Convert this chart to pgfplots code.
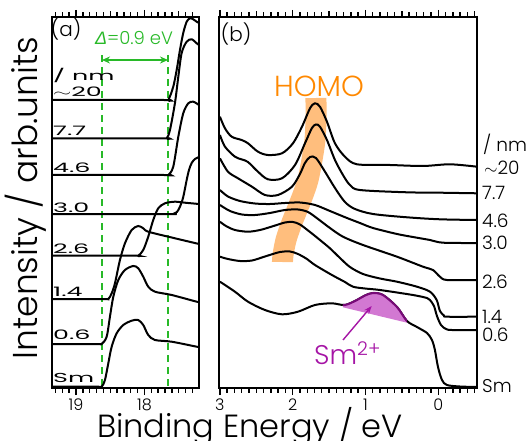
\documentclass[border=0pt]{standalone}
\usepackage{pgfplots}
\pgfplotsset{compat=1.18}
\usepackage{fontspec}
\setmainfont{Poppins Light}
\newfontfamily\reg{Poppins}
\newfontfamily\lsans{Liberation Sans}
\usetikzlibrary{arrows.meta}
\definecolor{grn}{RGB}{40,185,40}
\definecolor{orgtxt}{RGB}{255,136,0}
\definecolor{orgband}{RGB}{255,190,125}
\definecolor{pfill}{RGB}{210,120,210}
\definecolor{pline}{RGB}{120,10,120}
\definecolor{ptxt}{RGB}{165,20,165}
\pgfplotsset{
 myax/.style={
  scale only axis, anchor=south west,
  x dir=reverse, y dir=reverse,
  ymin=17, ymax=388, ytick=\empty,
  axis line style={line width=1.3pt},
  xtick style={draw=black, line width=1.4pt},
  minor tick style={draw=black, line width=1.4pt},
  major tick length=7pt, minor tick length=4.5pt,
  tick align=outside,
  xticklabel style={font=\fontsize{16}{16}\selectfont},
  /pgf/number format/assume math mode=true,
 },
 crv/.style={black, line width=2pt, smooth, tension=0.5},
}
\tikzset{tk/.style={draw=black, line width=1.4pt}}
% ticks drawn on the page: #1 = list of values, #2 = length, #3 = left px, #4 = value at left edge, #5 = pt per eV
\newcommand{\pticks}[5]{%
  \foreach \e in {#1}{%
    \pgfmathsetmacro\px{#3+(#4-\e)*#5}%
    \draw[tk] (\px pt,53pt) -- ++(0pt,-#2);
    \draw[tk] (\px pt,424pt) -- ++(0pt,#2);
  }}
\newcommand{\lab}[1]{\scalebox{1.95}[1]{\reg\fontsize{13}{13}\selectfont #1}}
\begin{document}
\begin{tikzpicture}
% ---------------- panel (a)
\begin{axis}[myax, at={(52pt,53pt)}, width=147pt, height=371pt,
  xmin=17.204, xmax=19.350, xtick={18,19},
  minor xtick={17.3,17.4,17.5,17.6,17.7,17.8,17.9,18.1,18.2,18.3,18.4,18.5,18.6,18.7,18.8,18.9,19.1,19.2,19.3}]
\draw[grn, line width=1.8pt, dash pattern=on 7pt off 5pt] (axis cs:18.62,55) -- (axis cs:18.62,388);
\draw[grn, line width=1.8pt, dash pattern=on 7pt off 5pt] (axis cs:17.657,55) -- (axis cs:17.657,388);
\addplot[crv] coordinates {(19.350,386.7)(18.70,386.7)(18.625,386.7)(18.577,380)(18.528,363.3)(18.479,346.7)(18.406,333.3)(18.309,325)(18.187,320.7)(18.091,320)(18.018,325)(17.945,335)(17.847,340)(17.603,341.7)(17.238,346.7)(17.204,347)};
\addplot[crv] coordinates {(19.350,344)(18.70,344)(18.625,344)(18.552,336.7)(18.504,316.7)(18.455,296.7)(18.382,280)(18.285,270)(18.163,266)(18.091,268.3)(18.018,276.7)(17.945,286.7)(17.847,291.7)(17.603,295)(17.238,301.7)(17.204,302)};
\addplot[crv] coordinates {(19.350,299)(18.60,299)(18.528,299)(18.479,293.3)(18.431,283.3)(18.358,260)(18.285,243.3)(18.187,230)(18.091,226)(18.018,228.3)(17.945,231.7)(17.603,237.5)(17.204,244)};
\addplot[crv] coordinates {(19.350,255.7)(18.16,255.7)(18.091,255.7)(18.018,250)(17.945,236.7)(17.872,220)(17.799,208.3)(17.701,203.3)(17.555,201.7)(17.409,202.7)(17.204,204)};
\addplot[crv] coordinates {(19.350,214)(17.65,214)(17.580,214)(17.526,212)(17.482,206.7)(17.434,197)(17.384,180)(17.350,170)(17.311,163)(17.263,159)(17.204,157)};
\addplot[crv] coordinates {(19.350,175)(17.72,175)(17.653,175)(17.580,166.7)(17.506,136.7)(17.434,113.3)(17.360,103.3)(17.288,101.7)(17.204,105)};
\addplot[crv] coordinates {(19.350,138.3)(17.74,138.3)(17.676,138.3)(17.628,130)(17.555,103)(17.506,76.7)(17.457,53)(17.384,41.7)(17.311,39.3)(17.238,43.3)(17.204,45)};
\addplot[crv] coordinates {(19.350,100)(17.72,100)(17.653,100)(17.580,86.7)(17.530,70)(17.482,50)(17.434,33)(17.384,21.7)(17.336,18.3)(17.288,19.3)(17.238,21.7)(17.204,23)};
\end{axis}
% ---------------- panel (b)
\begin{axis}[myax, at={(219pt,53pt)}, width=258pt, height=371pt,
  xmin=-0.532, xmax=3.012, xtick={0,1,2,3},
  minor xtick={-0.5,-0.4,-0.3,-0.2,-0.1,0.1,0.2,0.3,0.4,0.5,0.6,0.7,0.8,0.9,1.1,1.2,1.3,1.4,1.5,1.6,1.7,1.8,1.9,2.1,2.2,2.3,2.4,2.5,2.6,2.7,2.8,2.9}]
\addplot[orgband, line width=21pt, smooth, tension=0.5] coordinates {(1.680,98)(1.680,120)(1.694,140)(1.735,160)(1.790,180)(1.859,195)(1.941,210)(2.023,225)(2.092,240)(2.133,255)(2.140,262)};
% ~20
\addplot[crv] coordinates {(2.999,116.7)(2.930,128.3)(2.838,136.7)(2.701,140)(2.614,143.3)(2.477,151.7)(2.340,155)(2.147,153.3)(1.996,143.3)(1.872,126.7)(1.762,108.3)(1.694,103.3)(1.625,106.7)(1.529,121.7)(1.419,143.3)(1.282,156.7)(1.117,164.3)(0.663,165)(0.210,166)(-0.161,164.3)(-0.532,166.7)};
% 7.7
\addplot[crv] coordinates {(2.999,135)(2.930,146.7)(2.793,156.7)(2.696,159.5)(2.614,162)(2.477,171.7)(2.340,179.3)(2.147,178.3)(1.968,165)(1.831,143.3)(1.735,128)(1.680,124.5)(1.625,126.7)(1.529,140)(1.419,160)(1.309,175)(1.213,185)(1.076,190)(0.430,192.3)(-0.023,192.7)(-0.532,193.3)};
% 4.6
\addplot[crv] coordinates {(2.999,158.3)(2.889,171.7)(2.751,178.3)(2.559,186.7)(2.381,195)(2.202,195)(2.010,186.7)(1.900,174)(1.831,163)(1.762,157)(1.680,158)(1.556,171.7)(1.419,188)(1.282,202)(1.144,209)(0.897,214)(0.430,217.3)(-0.023,219.3)(-0.532,220)};
% 3.0
\addplot[crv] coordinates {(2.999,190)(2.889,196.5)(2.724,201)(2.518,203.5)(2.312,204)(2.106,203)(1.900,202.5)(1.694,205)(1.488,211)(1.254,218)(1.076,223)(0.897,228)(0.567,234)(0.348,237)(0.114,240)(-0.065,242.7)(-0.532,243)};
% 2.6
\addplot[crv] coordinates {(2.999,205)(2.861,211)(2.696,214.5)(2.518,215)(2.312,213)(2.106,210)(1.927,209.5)(1.790,212)(1.652,219)(1.488,228)(1.309,236.7)(1.034,245)(0.567,256.7)(0.210,266.7)(0.073,270)(-0.023,276.7)(-0.119,280)(-0.532,280)};
% 1.4
\addplot[crv] coordinates {(2.999,221.7)(2.916,226)(2.793,230)(2.614,231.7)(2.449,230)(2.284,226.5)(2.106,222.5)(1.996,222)(1.900,224.5)(1.762,232)(1.625,240)(1.488,248.3)(1.350,258)(1.213,267)(1.034,274)(0.801,278.5)(0.567,281.7)(0.293,286.7)(0.114,291.7)(0.022,300)(-0.023,311)(-0.078,315.5)(-0.119,316.7)(-0.532,316.7)};
% 0.6
\addplot[crv] coordinates {(2.999,256.7)(2.889,259)(2.724,261)(2.559,260.5)(2.381,256.5)(2.175,252)(2.037,251.5)(1.927,254)(1.804,259)(1.694,265)(1.461,275)(1.282,282)(1.172,286.7)(1.007,288.5)(0.801,290)(0.348,295)(0.155,298)(0.114,300)(0.059,306)(0.018,316)(-0.037,325)(-0.106,329)(-0.188,330)(-0.532,330)};
% Sm
\addplot[crv] coordinates {(2.999,281.7)(2.793,291.7)(2.614,301.7)(2.381,310)(2.147,314.3)(1.927,311.7)(1.694,305)(1.461,303.3)(1.282,305)(1.117,300)(1.007,295.5)(0.897,293)(0.760,295)(0.567,307)(0.430,321)(0.293,327)(0.155,333)(0.087,340)(0.046,350)(0.004,367)(-0.051,380)(-0.119,385)(-0.298,386.5)(-0.532,387)};
\begin{scope}
\clip (axis cs:1.309,307.3) -- (axis cs:0.430,322.7) -- (axis cs:0.430,250) -- (axis cs:1.309,250) -- cycle;
\addplot[fill=pfill, draw=none, smooth, tension=0.5] coordinates {(2.999,281.7)(2.793,291.7)(2.614,301.7)(2.381,310)(2.147,314.3)(1.927,311.7)(1.694,305)(1.461,303.3)(1.282,305)(1.117,300)(1.007,295.5)(0.897,293)(0.760,295)(0.567,307)(0.430,321)(0.293,327)(0.155,333)(0.087,340)(0.046,350)(0.004,367)(-0.051,380)(-0.119,385)(-0.298,386.5)(-0.532,387)} -- (axis cs:-0.532,388) -- (axis cs:3.012,388) -- cycle;
\addplot[pline, line width=2.1pt, smooth, tension=0.5] coordinates {(2.999,281.7)(2.793,291.7)(2.614,301.7)(2.381,310)(2.147,314.3)(1.927,311.7)(1.694,305)(1.461,303.3)(1.282,305)(1.117,300)(1.007,295.5)(0.897,293)(0.760,295)(0.567,307)(0.430,321)(0.293,327)(0.155,333)(0.087,340)(0.046,350)(0.004,367)(-0.051,380)(-0.119,385)(-0.298,386.5)(-0.532,387)};
\end{scope}
\end{axis}
% ---------------- tick marks (outside the frames)
\pticks{18,19}{7pt}{52}{19.35}{68.5}
\pticks{17.5,18.5}{5.5pt}{52}{19.35}{68.5}
\pticks{17.3,17.4,17.6,17.7,17.8,17.9,18.1,18.2,18.3,18.4,18.6,18.7,18.8,18.9,19.1,19.2,19.3}{4.5pt}{52}{19.35}{68.5}
\pticks{0,1,2,3}{7pt}{219}{3.012}{72.8}
\pticks{-0.5,0.5,1.5,2.5}{5.5pt}{219}{3.012}{72.8}
\pticks{-0.4,-0.3,-0.2,-0.1,0.1,0.2,0.3,0.4,0.6,0.7,0.8,0.9,1.1,1.2,1.3,1.4,1.6,1.7,1.8,1.9,2.1,2.2,2.3,2.4,2.6,2.7,2.8,2.9}{4.5pt}{219}{3.012}{72.8}
% ---------------- annotations (page coordinates in pt: y = 441 - py)
\node[anchor=base, font=\fontsize{32}{32}\selectfont, inner sep=0pt] at (250pt,3pt) {Binding Energy / eV};
\node[anchor=base, rotate=90, font=\fontsize{34.5}{34.5}\selectfont, inner sep=0pt] at (38pt,243pt) {Intensity / arb.units};
\node[font=\fontsize{20}{20}\selectfont] at (66pt,412pt) {(a)};
\node[font=\fontsize{20}{20}\selectfont] at (236pt,407pt) {(b)};
\node[grn, font=\fontsize{18}{18}\selectfont] at (134pt,403pt) {{\lsans\itshape Δ}=0.9 eV};
\draw[grn, line width=1.5pt, {Stealth[length=8pt,width=7pt]}-{Stealth[length=8pt,width=7pt]}] (102pt,381pt) -- (168pt,381pt);
\node[orgtxt, font=\fontsize{29}{29}\selectfont] at (319pt,355pt) {HOMO};
\node[ptxt, anchor=base west, font=\fontsize{27}{27}\selectfont, inner sep=0pt] at (314pt,76pt) {Sm\textsuperscript{2+}};
\draw[ptxt, line width=1.4pt, -{Stealth[length=8pt,width=6pt]}] (343pt,101pt) -- (371.7pt,135pt);
% panel (a) thickness labels
\node[anchor=west, inner sep=0pt] at (53pt,366pt) {\lab{/ nm}};
\node[anchor=west, inner sep=0pt] at (53pt,349pt) {\lab{$\sim$20}};
\node[anchor=west, inner sep=0pt] at (53pt,310pt) {\lab{7.7}};
\node[anchor=west, inner sep=0pt] at (53pt,273pt) {\lab{4.6}};
\node[anchor=west, inner sep=0pt] at (53pt,233pt) {\lab{3.0}};
\node[anchor=west, inner sep=0pt] at (53pt,192pt) {\lab{2.6}};
\node[anchor=west, inner sep=0pt] at (53pt,149pt) {\lab{1.4}};
\node[anchor=west, inner sep=0pt] at (53pt,106pt) {\lab{0.6}};
\node[anchor=west, inner sep=0pt] at (53pt,63pt) {\lab{Sm}};
% panel (b) thickness labels
\begin{scope}[every node/.style={anchor=west, inner sep=0pt, font=\fontsize{18.5}{18.5}\selectfont}]
\node at (483pt,297pt) {/ nm};
\node at (484pt,273pt) {$\sim$20};
\node at (482pt,248pt) {7.7};
\node at (482pt,220pt) {4.6};
\node at (482pt,198pt) {3.0};
\node at (482pt,159pt) {2.6};
\node at (482pt,124pt) {1.4};
\node at (482pt,106pt) {0.6};
\node at (482pt,55pt) {Sm};
\end{scope}
\pgfresetboundingbox
\path[use as bounding box] (0pt,0pt) rectangle (530pt,441pt);
\end{tikzpicture}
\end{document}
